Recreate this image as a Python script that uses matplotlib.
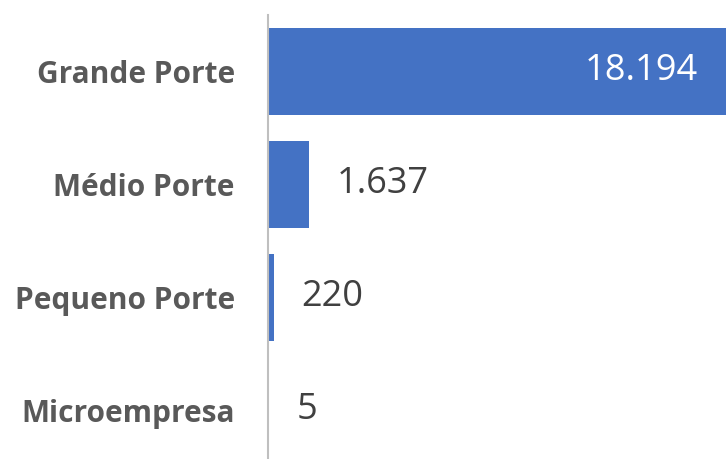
import matplotlib.pyplot as plt

categories = ["Grande Porte", "Médio Porte", "Pequeno Porte", "Microempresa"]
values = [18194, 1637, 220, 5]
labels = ["18.194", "1.637", "220", "5"]

plt.rcParams['font.family'] = ['Open Sans', 'DejaVu Sans']

fig = plt.figure(figsize=(7.26, 4.59), dpi=100)
ax = fig.add_axes([268 / 726, 0, 458 / 726, 1 - 15 / 459])

y = list(range(len(categories)))
bars = ax.barh(y, values, height=0.77, color="#4472C4")
ax.set_xlim(0, 18200)
ax.set_ylim(3.43, -0.5)

ax.set_yticks(y)
ax.set_yticklabels(categories, fontsize=21.5, fontweight="bold", color="#595959")
ax.tick_params(axis="y", length=0, pad=24)
ax.set_xticks([])

for s in ["top", "right", "bottom"]:
    ax.spines[s].set_visible(False)
ax.spines["left"].set_color("#BFBFBF")
ax.spines["left"].set_linewidth(1.5)

for i, (v, lab) in enumerate(zip(values, labels)):
    if i == 0:
        ax.annotate(lab, (v, i), xytext=(-28, 0), textcoords="offset pixels",
                    ha="right", va="center", fontsize=26, color="white")
    else:
        ax.annotate(lab, (v, i), xytext=(28, 0), textcoords="offset pixels",
                    ha="left", va="center", fontsize=26, color="#404040")

fig.savefig("out.png", dpi=100)
